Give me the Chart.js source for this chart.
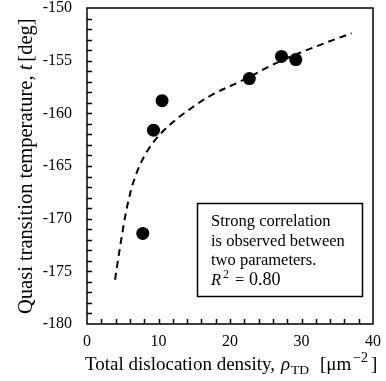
<!DOCTYPE html>
<html>
<head>
<meta charset="utf-8">
<script src="https://cdn.jsdelivr.net/npm/chart.js@4.4.1/dist/chart.umd.min.js"></script>
<style>
  html, body { margin: 0; padding: 0; background: #fff; }
  #wrap { width: 386px; height: 381px; }
</style>
</head>
<body>
<div id="wrap"><canvas id="chart" width="386" height="381"></canvas></div>
<script>
// measured points
const densityValues = [7.8, 9.3, 10.5, 22.7, 27.2, 29.2];
const tempValues = [-171.4, -161.6, -158.8, -156.7, -154.6, -154.9];

// dashed fit curve
const fitDensity = [3.92, 4.62, 5.45, 6.15, 6.7, 7.4, 8.5, 10.2, 12.6, 14.4, 16.8, 22.1, 27.0, 33.0, 37.0];
const fitTemp = [-175.8, -172.7, -169.4, -167.3, -166.1, -164.9, -163.5, -162.0, -160.5, -159.6, -158.5, -156.75, -155.05, -153.4, -152.4];

const xTickLabels = [0, 10, 20, 30, 40];
const yTickLabels = [-180, -175, -170, -165, -160, -155, -150];

const noteLines = ['Strong correlation', 'is observed between', 'two parameters.'];
const rSquared = '0.80';

const SERIF = '"Liberation Serif", "Times New Roman", serif';

const ctx = document.getElementById('chart').getContext('2d');

// frame, inward ticks, note box and the axis titles
const decorations = {
  id: 'decorations',
  afterDraw(chart) {
    const c = chart.ctx;
    const area = chart.chartArea;
    const xs = chart.scales.x;
    const ys = chart.scales.y;
    c.save();
    c.strokeStyle = '#000';
    c.fillStyle = '#000';

    // minor ticks pointing into the plot
    c.lineWidth = 1.5;
    c.beginPath();
    for (let v = ys.min + 1; v < ys.max; v++) {
      const py = Math.round(ys.getPixelForValue(v)) + 0.5;
      c.moveTo(area.left, py);
      c.lineTo(area.left + 5, py);
    }
    for (let v = xs.min + 2; v < xs.max; v += 2) {
      const px = Math.round(xs.getPixelForValue(v)) + 0.5;
      c.moveTo(px, area.bottom);
      c.lineTo(px, area.bottom - 5);
    }
    c.stroke();

    c.lineWidth = 1.5;
    c.strokeRect(area.left, area.top, area.right - area.left, area.bottom - area.top);

    // note box
    c.fillStyle = '#fff';
    c.fillRect(197, 203, 166, 94);
    c.strokeStyle = '#000';
    c.lineWidth = 1.5;
    c.strokeRect(197.5, 203.5, 165, 93);
    c.fillStyle = '#000';
    c.font = '16.5px ' + SERIF;
    c.textAlign = 'left';
    c.textBaseline = 'alphabetic';
    noteLines.forEach((line, i) => c.fillText(line, 211, 226 + i * 19.7));
    const ny = 226 + 3 * 19.7;
    c.font = 'italic 16.5px ' + SERIF;
    c.fillText('R', 211, ny);
    c.font = '12px ' + SERIF;
    c.fillText('2', 223, ny - 7);
    c.font = '16.5px ' + SERIF;
    c.fillText('=', 235, ny);
    c.font = '18px ' + SERIF;
    c.fillText(rSquared, 249, ny);

    // x title
    const ty = 370;
    c.font = '19px ' + SERIF;
    c.fillText('Total dislocation density,', 85, ty);
    c.font = 'italic 19px ' + SERIF;
    c.fillText('\u03c1', 281, ty);
    c.font = '13.5px ' + SERIF;
    c.fillText('TD', 291, ty + 4);
    c.font = '19px ' + SERIF;
    c.fillText('[\u03bcm', 320, ty);
    c.font = '14px ' + SERIF;
    c.fillText('\u22122', 353, ty - 8);
    c.font = '19px ' + SERIF;
    c.fillText(']', 371, ty);

    // y title, rotated
    c.translate(32, 314);
    c.rotate(-Math.PI / 2);
    const p1 = 'Quasi transition temperature, ';
    c.font = '20.5px ' + SERIF;
    c.fillText(p1, 0, 0);
    let yx = c.measureText(p1).width;
    c.font = 'italic 20.5px ' + SERIF;
    c.fillText('t', yx, 0);
    yx += c.measureText('t').width + 3;
    c.font = '20.5px ' + SERIF;
    c.fillText('[deg]', yx, 0);
    c.restore();
  }
};

function zeroPadding(s) {
  s.paddingTop = 0;
  s.paddingBottom = 0;
  s.paddingLeft = 0;
  s.paddingRight = 0;
}

const chart = new Chart(ctx, {
  type: 'scatter',
  data: {
    datasets: [{
      label: 'Measured',
      data: densityValues.map((d, i) => ({ x: d, y: tempValues[i] })),
      backgroundColor: '#000',
      borderColor: '#000',
      borderWidth: 0,
      pointRadius: 6.5,
      pointHoverRadius: 6.5,
      order: 1
    }, {
      label: 'Fit',
      data: fitDensity.map((d, i) => ({ x: d, y: fitTemp[i] })),
      showLine: true,
      borderColor: '#000',
      borderWidth: 2,
      borderDash: [7, 5],
      pointRadius: 0,
      cubicInterpolationMode: 'monotone',
      fill: false,
      order: 2
    }]
  },
  options: {
    responsive: false,
    animation: false,
    layout: { padding: { top: 8, right: 13, left: 0, bottom: 0 } },
    plugins: {
      legend: { display: false },
      title: { display: false },
      tooltip: { enabled: false }
    },
    scales: {
      x: {
        type: 'linear',
        min: 0,
        max: 40,
        grid: { display: false, drawTicks: false },
        border: { display: false },
        afterBuildTicks: (s) => { s.ticks = xTickLabels.map(v => ({ value: v })); },
        afterFit: (s) => { s.height = 57; zeroPadding(s); },
        ticks: {
          color: '#000',
          padding: 8,
          maxRotation: 0,
          font: { family: SERIF, size: 16 }
        }
      },
      y: {
        type: 'linear',
        min: -180,
        max: -150,
        grid: { display: false, drawTicks: false },
        border: { display: false },
        afterBuildTicks: (s) => { s.ticks = yTickLabels.map(v => ({ value: v })); },
        afterFit: (s) => { s.width = 87; zeroPadding(s); },
        ticks: {
          color: '#000',
          padding: 15,
          font: { family: SERIF, size: 16 },
          callback: (v) => String(v)
        }
      }
    }
  },
  plugins: [decorations]
});
</script>
</body>
</html>
